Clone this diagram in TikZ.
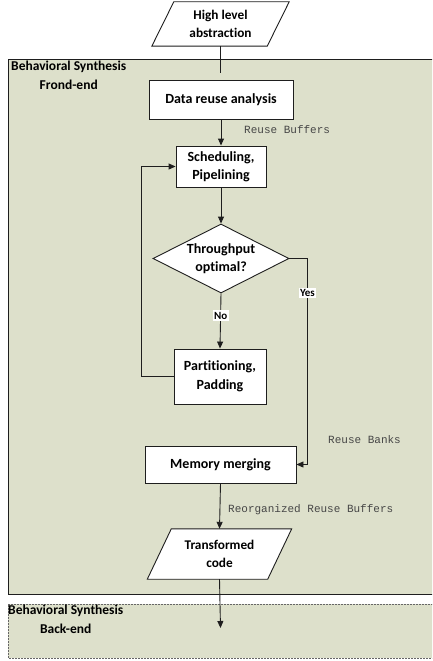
\documentclass[tikz,border=0pt]{standalone}
\usepackage{fontspec}
\setmainfont{Carlito}[Ligatures=NoCommon]
\setmonofont{Liberation Mono}
\usetikzlibrary{shapes.geometric,arrows.meta,calc}
\definecolor{framefill}{RGB}{221,224,203}
\definecolor{linec}{RGB}{30,30,30}
\definecolor{monoc}{RGB}{70,70,70}
\tikzset{
  box/.style={draw=linec, line width=0.9pt, fill=white, inner sep=0pt, align=center, font=\bfseries\fontsize{14}{18}\selectfont},
  paraholder/.style={draw=none, inner sep=0pt},
  paratext/.style={align=center, inner sep=0pt, font=\bfseries\fontsize{13.3}{17.5}\selectfont},
  decision/.style={diamond, draw=linec, line width=0.9pt, fill=white, inner sep=-6pt, aspect=1.97, align=center, font=\bfseries\fontsize{14}{18}\selectfont},
  arr/.style={draw=linec, line width=0.9pt, -{Triangle[length=7pt,width=6pt]}},
  conn/.style={draw=linec, line width=0.9pt},
  monolab/.style={font=\ttfamily\fontsize{11}{13}\selectfont, text=monoc, anchor=west, inner sep=0pt},
  yn/.style={fill=white, inner sep=1.5pt, font=\bfseries\fontsize{11}{12}\selectfont},
  framelab/.style={align=center, inner sep=0pt, anchor=north west, font=\bfseries\fontsize{13.5}{18.5}\selectfont}
}
\begin{document}
\begin{tikzpicture}[x=1pt,y=-1pt]
\useasboundingbox (0,0) rectangle (432,661);
\clip (0,0) rectangle (432,661);
% frames
\fill[framefill] (8,60) rectangle (445,594);
\draw[linec, line width=1pt] (445,60) -- (8,60) -- (8,594) -- (445,594);
\fill[framefill] (8,604) rectangle (445,658);
\draw[black!60, line width=0.9pt, dashed, dash pattern=on 2pt off 1pt] (445,604) -- (8,604) -- (8,658) -- (445,658);
\node[framelab] (flab) at (11,61) {Behavioral Synthesis\\Frond-end};
\node[framelab] (blab) at (8,605) {Behavioral Synthesis\\Back-end};

% top parallelogram
\node[paraholder, minimum width=115pt, minimum height=44pt] (hla) at (220.5,24) {};
\filldraw[fill=white, draw=linec, line width=0.9pt]
  ($(hla.south west)+(-11,0)$) -- ($(hla.north west)+(11,0)$) -- ($(hla.north east)+(11,0)$) -- ($(hla.south east)+(-11,0)$) -- cycle;
\node[paratext] (hlat) at (hla) {High level\\abstraction};

% boxes
\node[box, minimum width=144pt, minimum height=39pt] (dra) at (221,99.5) {Data reuse analysis};
\node[box, minimum width=90pt, minimum height=41pt] (sch) at (221,166.5) {Scheduling,\\Pipelining};
\node[decision, minimum width=136pt, minimum height=69pt] (dia) at (221,258.5) {Throughput\\optimal?};
\node[box, minimum width=92pt, minimum height=55pt, font=\bfseries\fontsize{14}{19.5}\selectfont] (par) at (220,376.5) {Partitioning,\\Padding};
\node[box, minimum width=151pt, minimum height=37pt] (mem) at (220.5,464.5) {Memory merging};

% transformed code
\node[paraholder, minimum width=120pt, minimum height=50pt] (tc) at (219.5,554) {};
\filldraw[fill=white, draw=linec, line width=0.9pt]
  ($(tc.south west)+(-12,0)$) -- ($(tc.north west)+(12,0)$) -- ($(tc.north east)+(12,0)$) -- ($(tc.south east)+(-12,0)$) -- cycle;
\node[paratext] (tct) at (tc) {Transformed\\code};

% connectors
\coordinate (c1) at (220.5,73);
\draw[conn] (hla.south) -- (c1);
\draw[arr] (dra.south) -- (sch.north);
\node[monolab] (rb) at (244,130) {Reuse Buffers};
\draw[arr] (sch.south) -- (dia.north);
\draw[arr] (dia.south) -- node[yn, pos=0.4] (no) {No} (par.north);
\draw[arr] (par.west) -- ++(-32,0) |- (sch.west);
\draw[arr] (dia.east) -- ++(18,0) coordinate (yc) |- (mem.east);
\node[yn] (yes) at ($(yc)+(0,34.5)$) {Yes};
\node[monolab] (rbk) at (328,440) {Reuse Banks};
\draw[arr] (mem.south) -- (tc.north);
\node[monolab] (rrb) at (228,510) {Reorganized Reuse Buffers};
\coordinate (c2) at (220.5,628);
\draw[arr] (tc.south) -- (c2);
\end{tikzpicture}
\end{document}
